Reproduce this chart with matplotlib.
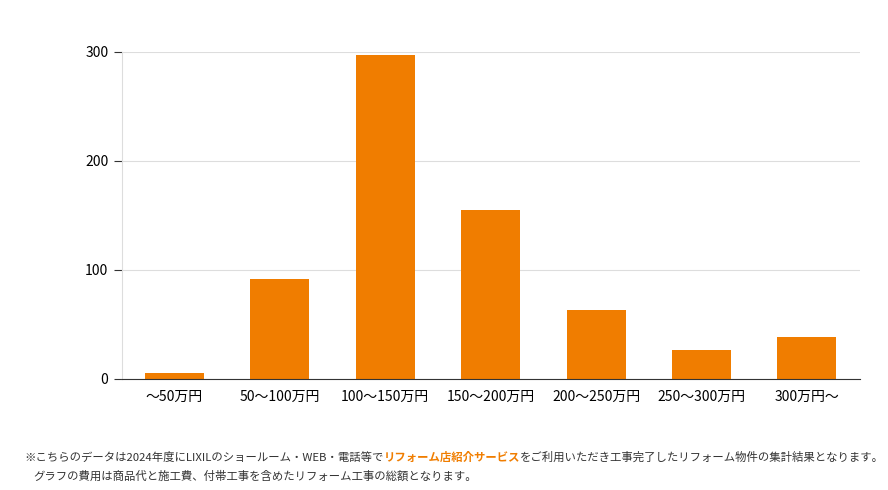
import matplotlib
matplotlib.use("Agg")
import matplotlib.pyplot as plt
import numpy as np

plt.rcParams['font.family'] = ['Noto Sans CJK JP', 'DejaVu Sans']

categories = ['〜50万円', '50〜100万円', '100〜150万円', '150〜200万円',
              '200〜250万円', '250〜300万円', '300万円〜']
counts = [5, 92, 297, 155, 63, 26, 38]
yticks = [0, 100, 200, 300]

note_a = '※こちらのデータは2024年度にLIXILのショールーム・WEB・電話等で'
note_b = 'リフォーム店紹介サービス'
note_c = 'をご利用いただき工事完了したリフォーム物件の集計結果となります。'
note_2 = 'グラフの費用は商品代と施工費、付帯工事を含めたリフォーム工事の総額となります。'

orange = '#f07d00'
fig = plt.figure(figsize=(8.88, 4.9), dpi=100)
ax = fig.add_axes([0.137, 0.227, 0.831, 0.667])
x = np.arange(len(categories))
ax.bar(x, counts, width=0.56, color=orange, zorder=3)
ax.set_xlim(-0.5, len(categories) - 0.5)
ax.set_ylim(0, 300)
ax.set_yticks(yticks)
ax.set_xticks(x)
ax.set_xticklabels(categories, fontsize=10)
ax.tick_params(axis='y', labelsize=10, length=6, color='#333333')
ax.tick_params(axis='x', length=0, pad=8)
ax.grid(axis='y', color='#dddddd', linewidth=0.8, zorder=0)
for s in ['top', 'right']:
    ax.spines[s].set_visible(False)
ax.spines['left'].set_color('#dddddd')
ax.spines['bottom'].set_color('#333333')
ax.spines['bottom'].set_zorder(4)

fig.canvas.draw()
r = fig.canvas.get_renderer()
xp = 0.027
y1 = 1 - 457 / 490
for txt, col in [(note_a, '#333333'), (note_b, orange), (note_c, '#333333')]:
    t = fig.text(xp, y1, txt, fontsize=8.2, color=col, va='center',
                 fontweight='bold' if col == orange else 'normal')
    bb = t.get_window_extent(renderer=r)
    xp += bb.width / fig.bbox.width
fig.text(0.038, 1 - 476 / 490, note_2, fontsize=8.2, color='#333333', va='center')

fig.savefig('out.png', dpi=100)
